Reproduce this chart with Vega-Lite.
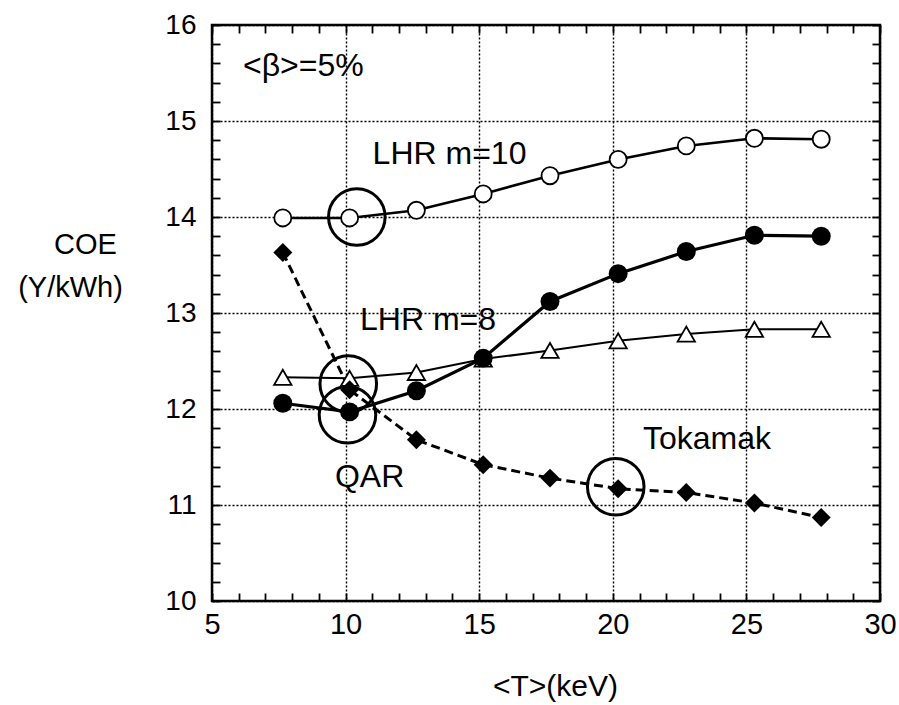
{
  "$schema": "https://vega.github.io/schema/vega-lite/v6.json",
  "width": 668,
  "height": 576,
  "autosize": "none",
  "padding": {"left": 212, "top": 25, "right": 19, "bottom": 104},
  "background": "white",
  "config": {
    "view": {"stroke": "black", "strokeWidth": 2.5},
    "font": "Liberation Sans",
    "text": {"font": "Liberation Sans"}
  },
  "datasets": {
    "curves": [
      {"series": "LHR m=10", "T": 7.65, "COE": 13.99},
      {"series": "LHR m=10", "T": 10.15, "COE": 13.99},
      {"series": "LHR m=10", "T": 12.65, "COE": 14.07},
      {"series": "LHR m=10", "T": 15.15, "COE": 14.24},
      {"series": "LHR m=10", "T": 17.65, "COE": 14.43},
      {"series": "LHR m=10", "T": 20.2, "COE": 14.6},
      {"series": "LHR m=10", "T": 22.75, "COE": 14.74},
      {"series": "LHR m=10", "T": 25.3, "COE": 14.82},
      {"series": "LHR m=10", "T": 27.8, "COE": 14.81},
      {"series": "LHR m=8", "T": 7.65, "COE": 12.33},
      {"series": "LHR m=8", "T": 10.15, "COE": 12.32},
      {"series": "LHR m=8", "T": 12.65, "COE": 12.38},
      {"series": "LHR m=8", "T": 15.15, "COE": 12.52},
      {"series": "LHR m=8", "T": 17.65, "COE": 12.61},
      {"series": "LHR m=8", "T": 20.2, "COE": 12.71},
      {"series": "LHR m=8", "T": 22.75, "COE": 12.78},
      {"series": "LHR m=8", "T": 25.3, "COE": 12.83},
      {"series": "LHR m=8", "T": 27.8, "COE": 12.83},
      {"series": "Tokamak", "T": 7.65, "COE": 13.63},
      {"series": "Tokamak", "T": 10.15, "COE": 12.2},
      {"series": "Tokamak", "T": 12.65, "COE": 11.68},
      {"series": "Tokamak", "T": 15.15, "COE": 11.42},
      {"series": "Tokamak", "T": 17.65, "COE": 11.28},
      {"series": "Tokamak", "T": 20.2, "COE": 11.17},
      {"series": "Tokamak", "T": 22.75, "COE": 11.13},
      {"series": "Tokamak", "T": 25.3, "COE": 11.02},
      {"series": "Tokamak", "T": 27.8, "COE": 10.87},
      {"series": "QAR", "T": 7.65, "COE": 12.06},
      {"series": "QAR", "T": 10.15, "COE": 11.97},
      {"series": "QAR", "T": 12.65, "COE": 12.19},
      {"series": "QAR", "T": 15.15, "COE": 12.53},
      {"series": "QAR", "T": 17.65, "COE": 13.12},
      {"series": "QAR", "T": 20.2, "COE": 13.41},
      {"series": "QAR", "T": 22.75, "COE": 13.64},
      {"series": "QAR", "T": 25.3, "COE": 13.81},
      {"series": "QAR", "T": 27.8, "COE": 13.8}
    ],
    "rings": [
      {"T": 10.42, "COE": 14.0},
      {"T": 10.1, "COE": 12.26},
      {"T": 10.07, "COE": 11.94},
      {"T": 20.11, "COE": 11.19}
    ],
    "notes": [
      {"label": "<β>=5%", "T": 6.16, "COE": 15.57},
      {"label": "LHR m=10", "T": 11.01, "COE": 14.66},
      {"label": "LHR m=8", "T": 10.54, "COE": 12.93},
      {"label": "QAR", "T": 9.6, "COE": 11.29},
      {"label": "Tokamak", "T": 21.13, "COE": 11.69}
    ]
  },
  "layer": [
    {
      "data": {"name": "curves"},
      "transform": [{"filter": "datum.series === 'LHR m=10'"}],
      "mark": {"type": "line", "color": "black", "strokeWidth": 2.6},
      "encoding": {
        "x": {
          "field": "T", "type": "quantitative",
          "scale": {"domain": [5, 30], "nice": false, "zero": false},
          "axis": {
            "orient": "bottom",
            "values": [5, 10, 15, 20, 25, 30],
            "format": "d",
            "labelFontSize": 29,
            "labelColor": "black",
            "labelPadding": 9,
            "labelFlush": false,
            "labelOverlap": false,
            "ticks": false,
            "domain": false,
            "grid": true,
            "gridColor": "black",
            "gridDash": [2, 2],
            "gridWidth": 1.4,
            "title": "<T>(keV)",
            "titleFontSize": 30,
            "titleFontWeight": "normal",
            "titleColor": "black",
            "titleAlign": "center",
            "titleBaseline": "middle",
            "titleX": 343,
            "titleY": 85
          }
        },
        "y": {
          "field": "COE", "type": "quantitative",
          "scale": {"domain": [10, 16], "nice": false, "zero": false},
          "axis": {
            "orient": "left",
            "values": [10, 11, 12, 13, 14, 15, 16],
            "format": "d",
            "labelFontSize": 28,
            "labelColor": "black",
            "labelPadding": 16,
            "labelFlush": false,
            "labelOverlap": false,
            "ticks": false,
            "domain": false,
            "grid": true,
            "gridColor": "black",
            "gridDash": [2, 2],
            "gridWidth": 1.4,
            "title": "(Y/kWh)",
            "titleFontSize": 29,
            "titleFontWeight": "normal",
            "titleColor": "black",
            "titleAngle": 0,
            "titleAlign": "center",
            "titleBaseline": "middle",
            "titleX": -142,
            "titleY": 262
          }
        }
      }
    },
    {
      "data": {"name": "curves"},
      "transform": [{"filter": "datum.series === 'LHR m=8'"}],
      "mark": {"type": "line", "color": "black", "strokeWidth": 2},
      "encoding": {
        "x": {"field": "T", "type": "quantitative", "axis": null},
        "y": {"field": "COE", "type": "quantitative", "axis": null}
      }
    },
    {
      "data": {"name": "curves"},
      "transform": [{"filter": "datum.series === 'Tokamak'"}],
      "mark": {"type": "line", "color": "black", "strokeWidth": 3, "strokeDash": [9, 5]},
      "encoding": {
        "x": {"field": "T", "type": "quantitative", "axis": null},
        "y": {"field": "COE", "type": "quantitative", "axis": null}
      }
    },
    {
      "data": {"name": "curves"},
      "transform": [{"filter": "datum.series === 'QAR'"}],
      "mark": {"type": "line", "color": "black", "strokeWidth": 3.2},
      "encoding": {
        "x": {"field": "T", "type": "quantitative", "axis": null},
        "y": {"field": "COE", "type": "quantitative", "axis": null}
      }
    },
    {
      "data": {"name": "curves"},
      "transform": [{"filter": "datum.series === 'LHR m=10'"}],
      "mark": {"type": "point", "shape": "circle", "filled": true, "fill": "white", "stroke": "black", "strokeWidth": 1.8, "size": 290, "opacity": 1},
      "encoding": {
        "x": {"field": "T", "type": "quantitative", "axis": null},
        "y": {"field": "COE", "type": "quantitative", "axis": null}
      }
    },
    {
      "data": {"name": "curves"},
      "transform": [{"filter": "datum.series === 'LHR m=8'"}],
      "mark": {"type": "point", "shape": "triangle-up", "filled": true, "fill": "white", "stroke": "black", "strokeWidth": 1.8, "size": 300, "opacity": 1},
      "encoding": {
        "x": {"field": "T", "type": "quantitative", "axis": null},
        "y": {"field": "COE", "type": "quantitative", "axis": null}
      }
    },
    {
      "data": {"name": "curves"},
      "transform": [{"filter": "datum.series === 'Tokamak'"}],
      "mark": {"type": "point", "shape": "diamond", "filled": true, "color": "black", "size": 360, "opacity": 1},
      "encoding": {
        "x": {"field": "T", "type": "quantitative", "axis": null},
        "y": {"field": "COE", "type": "quantitative", "axis": null}
      }
    },
    {
      "data": {"name": "curves"},
      "transform": [{"filter": "datum.series === 'QAR'"}],
      "mark": {"type": "point", "shape": "circle", "filled": true, "color": "black", "size": 360, "opacity": 1},
      "encoding": {
        "x": {"field": "T", "type": "quantitative", "axis": null},
        "y": {"field": "COE", "type": "quantitative", "axis": null}
      }
    },
    {
      "data": {"name": "rings"},
      "mark": {"type": "point", "shape": "circle", "filled": false, "color": "black", "strokeWidth": 3, "size": 3200, "opacity": 1},
      "encoding": {
        "x": {
          "field": "T", "type": "quantitative",
          "axis": {
            "orient": "bottom",
            "offset": -8,
            "values": [5, 6, 7, 8, 9, 10, 11, 12, 13, 14, 15, 16, 17, 18, 19, 20, 21, 22, 23, 24, 25, 26, 27, 28, 29, 30],
            "labels": false,
            "domain": false,
            "grid": false,
            "ticks": true,
            "tickSize": 8,
            "tickWidth": 1.8,
            "tickColor": "black",
            "tickOpacity": 1,
            "title": null
          }
        },
        "y": {
          "field": "COE", "type": "quantitative",
          "axis": {
            "orient": "left",
            "offset": -8,
            "values": [10, 10.2, 10.4, 10.6, 10.8, 11, 11.2, 11.4, 11.6, 11.8, 12, 12.2, 12.4, 12.6, 12.8, 13, 13.2, 13.4, 13.6, 13.8, 14, 14.2, 14.4, 14.6, 14.8, 15, 15.2, 15.4, 15.6, 15.8, 16],
            "labels": false,
            "domain": false,
            "grid": false,
            "ticks": true,
            "tickSize": 8,
            "tickWidth": 1.8,
            "tickColor": "black",
            "tickOpacity": 1,
            "title": null
          }
        }
      }
    },
    {
      "data": {"name": "notes"},
      "mark": {"type": "text", "align": "left", "baseline": "middle", "fontSize": 32, "color": "black"},
      "encoding": {
        "x": {
          "field": "T", "type": "quantitative",
          "axis": {
            "orient": "top",
            "offset": -8,
            "values": [5, 6, 7, 8, 9, 10, 11, 12, 13, 14, 15, 16, 17, 18, 19, 20, 21, 22, 23, 24, 25, 26, 27, 28, 29, 30],
            "labels": false,
            "domain": false,
            "grid": false,
            "ticks": true,
            "tickSize": 8,
            "tickWidth": 1.8,
            "tickColor": "black",
            "tickOpacity": 1,
            "title": null
          }
        },
        "y": {
          "field": "COE", "type": "quantitative",
          "axis": {
            "orient": "right",
            "offset": -8,
            "values": [10, 10.2, 10.4, 10.6, 10.8, 11, 11.2, 11.4, 11.6, 11.8, 12, 12.2, 12.4, 12.6, 12.8, 13, 13.2, 13.4, 13.6, 13.8, 14, 14.2, 14.4, 14.6, 14.8, 15, 15.2, 15.4, 15.6, 15.8, 16],
            "labels": false,
            "domain": false,
            "grid": false,
            "ticks": true,
            "tickSize": 8,
            "tickWidth": 1.8,
            "tickColor": "black",
            "tickOpacity": 1,
            "title": "COE",
            "titleFontSize": 29,
            "titleFontWeight": "normal",
            "titleColor": "black",
            "titleAngle": 0,
            "titleAlign": "center",
            "titleBaseline": "middle",
            "titleX": -787,
            "titleY": 219
          }
        },
        "text": {"field": "label", "type": "nominal"}
      }
    }
  ],
  "resolve": {"axis": {"x": "independent", "y": "independent"}}
}
